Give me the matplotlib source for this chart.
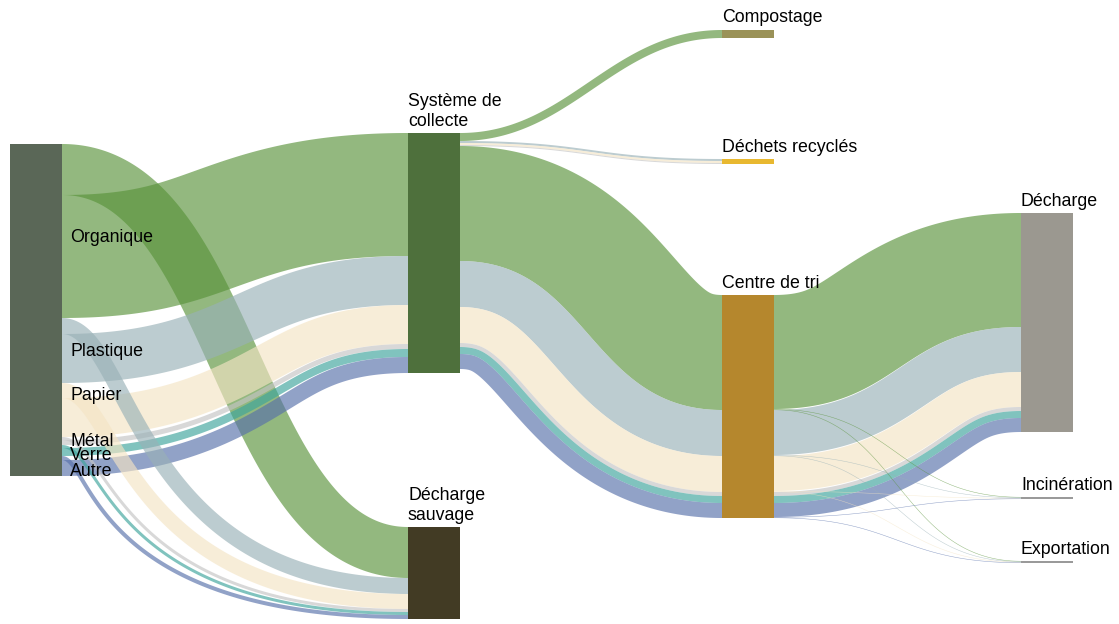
import numpy as np
import matplotlib
matplotlib.use("Agg")
import matplotlib.pyplot as plt
from matplotlib.patches import Polygon, Rectangle

plt.rcParams['font.family'] = ['Liberation Sans', 'DejaVu Sans']

# ---------------- data (flow values, kt) ----------------
materials = ["Organique", "Plastique", "Papier", "Métal", "Verre", "Autre"]
src_to_sauvage = [51, 16, 15, 3, 3, 4]
src_to_collecte = [123, 49, 39, 5, 8, 16]
collecte_to_compost = [8, 0, 0, 0, 0, 0]
collecte_to_recycles = [0, 2, 2, 1, 0, 0]
collecte_to_tri = [115, 46, 36, 4, 7, 15]
tri_to_decharge = [114, 45, 35, 4, 7, 14]
tri_to_incineration = [0.5, 0.5, 0.5, 0, 0, 0.5]
tri_to_exportation = [0.5, 0.5, 0.5, 0, 0, 0.5]

node_ids = ["src", "collecte", "sauvage", "compost", "recycles", "tri",
            "decharge", "incineration", "exportation"]
node_labels = ["", "Système de\ncollecte", "Décharge\nsauvage", "Compostage",
               "Déchets recyclés", "Centre de tri", "Décharge", "Incinération",
               "Exportation"]

# ---------------- styling / layout ----------------
material_colors = ["#59933a", "#99b1b7", "#f4e4c4", "#c4c4c4", "#3ca49b", "#5770aa"]
link_alpha = 0.65
node_colors = {"src": "#5a6757", "collecte": "#4e703c", "sauvage": "#423b24",
               "compost": "#9a9258", "recycles": "#e8b830", "tri": "#b5872d",
               "decharge": "#9b9890", "incineration": "#9a9a9a",
               "exportation": "#9a9a9a"}
node_x = {"src": 10, "collecte": 408, "sauvage": 408, "compost": 722,
          "recycles": 722, "tri": 722, "decharge": 1021,
          "incineration": 1021, "exportation": 1021}
node_top = {"src": 144, "collecte": 133, "sauvage": 527, "compost": 30,
            "recycles": 159, "tri": 295, "decharge": 213,
            "incineration": 497, "exportation": 561}
node_w = 52
sauvage_curv = [0.5, 0.2, 0.165, 0.14, 0.12, 0.085]
material_label_y = [238, 351, 395, 441, 456, 471]

# ---------------- build links ----------------
# (source, target, material, value, group key, curvature)
links = []
for i in range(len(materials)):
    links.append(("src", "sauvage", i, src_to_sauvage[i], ("sv", i), sauvage_curv[i]))
    links.append(("src", "collecte", i, src_to_collecte[i], ("src", "collecte"), 0.5))
for i in range(len(materials)):
    links.append(("collecte", "compost", i, collecte_to_compost[i], ("collecte", "compost"), 0.42))
for i in range(len(materials)):
    links.append(("collecte", "recycles", i, collecte_to_recycles[i], ("collecte", "recycles"), 0.5))
for i in range(len(materials)):
    links.append(("collecte", "tri", i, collecte_to_tri[i], ("collecte", "tri"), 0.5))
for i in range(len(materials)):
    links.append(("tri", "decharge", i, tri_to_decharge[i], ("tri", "decharge"), 0.5))
    links.append(("tri", "incineration", i, tri_to_incineration[i], ("inc", i), 0.5))
    links.append(("tri", "exportation", i, tri_to_exportation[i], ("exp", i), 0.5))
links = [l for l in links if l[3] > 0]

node_in = {n: 0.0 for n in node_ids}
node_out = {n: 0.0 for n in node_ids}
for s, t, m, v, g, c in links:
    node_out[s] += v
    node_in[t] += v
node_h = {n: max(node_in[n], node_out[n]) for n in node_ids}

# stacking positions
out_off = {n: 0.0 for n in node_ids}
in_off = {n: 0.0 for n in node_ids}
placed = []
for s, t, m, v, g, c in links:
    ys = node_top[s] + out_off[s]
    yt = node_top[t] + in_off[t]
    out_off[s] += v
    in_off[t] += v
    placed.append(dict(s=s, t=t, m=m, v=v, g=g, c=c, ys=ys, yt=yt))

groups = {}
for p in placed:
    groups.setdefault(p["g"], []).append(p)

# ---------------- figure ----------------
W, H = 1119, 624
fig = plt.figure(figsize=(W / 100, H / 100), dpi=100)
ax = fig.add_axes([0, 0, 1, 1])
ax.set_xlim(0, W)
ax.set_ylim(H, 0)
ax.axis("off")

tt = np.linspace(0, 1, 400)
smooth = tt * tt * (3 - 2 * tt)

for key, items in groups.items():
    s, t, c = items[0]["s"], items[0]["t"], items[0]["c"]
    total = sum(p["v"] for p in items)
    x0 = node_x[s] + node_w
    x1 = node_x[t]
    ys0 = items[0]["ys"]
    yt0 = items[0]["yt"]
    yc0 = ys0 + total / 2
    yc1 = yt0 + total / 2
    dx = x1 - x0
    P0 = np.array([x0, yc0]); P1 = np.array([x0 + c * dx, yc0])
    P2 = np.array([x1 - c * dx, yc1]) if c >= 0.4 else np.array([x0 + c * dx, yc1])
    P3 = np.array([x1, yc1])
    u = 1 - tt
    B = (u**3)[:, None] * P0 + (3 * u**2 * tt)[:, None] * P1 + \
        (3 * u * tt**2)[:, None] * P2 + (tt**3)[:, None] * P3
    D = (3 * u**2)[:, None] * (P1 - P0) + (6 * u * tt)[:, None] * (P2 - P1) + \
        (3 * tt**2)[:, None] * (P3 - P2)
    D = D / np.linalg.norm(D, axis=1)[:, None]
    N = np.stack([-D[:, 1], D[:, 0]], axis=1)
    cum = 0.0
    for p in items:
        d_top = -total / 2 + cum
        d_bot = d_top + p["v"]
        ds = p["ys"] - (ys0 + cum)
        dt = p["yt"] - (yt0 + cum)
        cum += p["v"]
        shift = ds * (1 - smooth) + dt * smooth
        up = B + N * d_top
        lo = B + N * d_bot
        up[:, 1] += shift
        lo[:, 1] += shift
        poly = np.vstack([up, lo[::-1]])
        ax.add_patch(Polygon(poly, closed=True, facecolor=material_colors[p["m"]],
                             edgecolor="none", alpha=link_alpha, zorder=1))

for n, lab in zip(node_ids, node_labels):
    ax.add_patch(Rectangle((node_x[n], node_top[n]), node_w, node_h[n],
                           facecolor=node_colors[n], edgecolor="none", zorder=3))
    if lab:
        ax.text(node_x[n], node_top[n] - 3.5, lab, ha="left", va="bottom",
                fontsize=12.8, color="black", linespacing=1.18, zorder=4)

for lab, y in zip(materials, material_label_y):
    ax.text(70, y, lab, ha="left", va="center", fontsize=12.8,
            color="black", zorder=4)

fig.savefig("out.png", dpi=100)
